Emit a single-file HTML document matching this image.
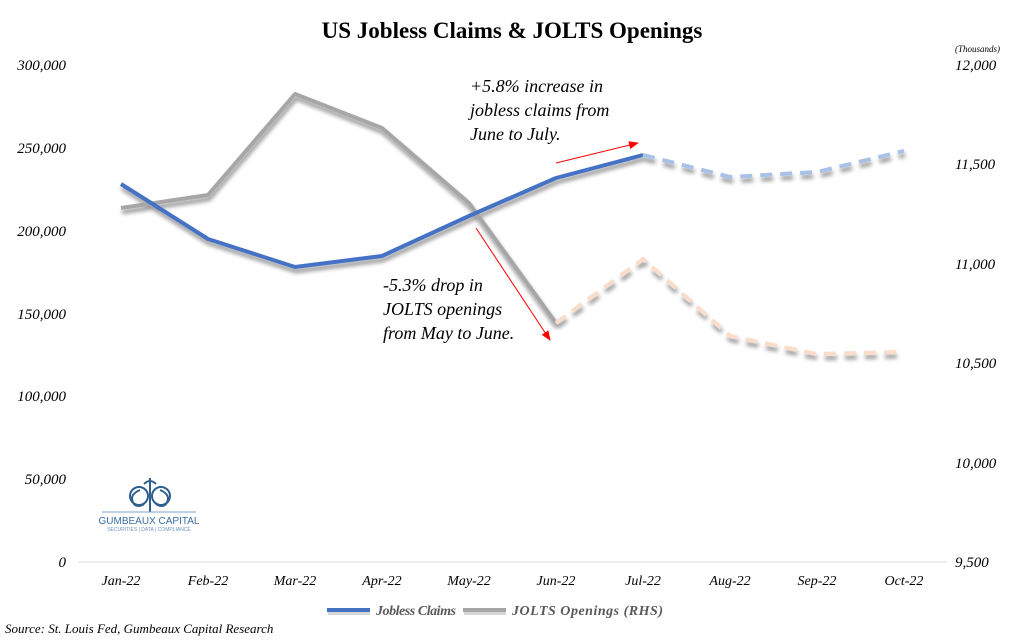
<!DOCTYPE html>
<html><head><meta charset="utf-8"><style>
body{margin:0;background:#fff;}
svg{display:block;font-family:"Liberation Serif",serif;}
</style></head><body>
<svg width="1024" height="642" viewBox="0 0 1024 642">
<defs>
<filter id="sh" x="-10%" y="-20%" width="120%" height="150%">
<feGaussianBlur in="SourceAlpha" stdDeviation="2"/>
<feOffset dx="1" dy="4" result="b"/>
<feComponentTransfer><feFuncA type="linear" slope="0.45"/></feComponentTransfer>
<feMerge><feMergeNode/><feMergeNode in="SourceGraphic"/></feMerge>
</filter>
<marker id="ah" markerWidth="10" markerHeight="8" refX="9" refY="4" orient="auto" markerUnits="userSpaceOnUse"><path d="M0,0 L10,4 L0,8 Z" fill="#f00"/></marker>
</defs>
<text x="512" y="38" text-anchor="middle" font-size="23" font-weight="bold">US Jobless Claims &amp; JOLTS Openings</text>
<g font-size="15" font-style="italic" text-anchor="end">
<text x="66" y="70">300,000</text><text x="66" y="153">250,000</text><text x="66" y="236">200,000</text>
<text x="66" y="319">150,000</text><text x="66" y="401">100,000</text><text x="66" y="484">50,000</text><text x="66" y="567">0</text>
</g>
<g font-size="15" font-style="italic" text-anchor="start">
<text x="955" y="70">12,000</text><text x="955" y="169">11,500</text><text x="955" y="269">11,000</text>
<text x="955" y="368">10,500</text><text x="955" y="468">10,000</text><text x="955" y="567">9,500</text>
</g>
<text x="955" y="52" font-size="9" font-style="italic">(Thousands)</text>
<line x1="78" y1="562" x2="947" y2="562" stroke="#d9d9d9" stroke-width="1"/>
<g font-size="14" font-style="italic" text-anchor="middle">
<text x="121" y="585">Jan-22</text><text x="208" y="585">Feb-22</text><text x="295" y="585">Mar-22</text><text x="382" y="585">Apr-22</text><text x="469" y="585">May-22</text><text x="556" y="585">Jun-22</text><text x="643" y="585">Jul-22</text><text x="730" y="585">Aug-22</text><text x="817" y="585">Sep-22</text><text x="904" y="585">Oct-22</text>
</g>
<g filter="url(#sh)" fill="none" stroke-linejoin="round">
<polyline points="121,208 208,195 295,94 382,128 469,203 556,323" stroke="#a6a6a6" stroke-width="4"/>
<polyline points="556,323 643,259 730,336 817,354 904,352" stroke="#f9dcc9" stroke-width="4" stroke-dasharray="12,8"/>
<polyline points="121,184 208,239 295,267 382,256 469,216 556,178 643,155" stroke="#4472c4" stroke-width="4"/>
<polyline points="643,155 730,177 817,172 904,151" stroke="#a9c1e6" stroke-width="4" stroke-dasharray="12,8"/>
</g>
<line x1="556" y1="163" x2="638" y2="143" stroke="#f00" stroke-width="1" marker-end="url(#ah)"/>
<line x1="476" y1="228" x2="550" y2="340" stroke="#f00" stroke-width="1" marker-end="url(#ah)"/>
<g font-size="18" font-style="italic">
<text x="470" y="92">+5.8% increase in</text><text x="470" y="116">jobless claims from</text><text x="470" y="140">June to July.</text>
<text x="383" y="291">-5.3% drop in</text><text x="383" y="315">JOLTS openings</text><text x="383" y="339">from May to June.</text>
</g>
<g stroke="#2f5f8f" fill="none" stroke-width="2">
<path d="M150,478 L150,512 M144,484 q6,-6 12,0 M140,490 q-12,5 -6,14 q4,4 10,0 M160,490 q12,5 6,14 q-4,4 -10,0"/>
<circle cx="139" cy="496" r="9"/><circle cx="161" cy="496" r="9"/>
</g>
<line x1="102" y1="512" x2="196" y2="512" stroke="#7fa3c8" stroke-width="1"/>
<text x="149" y="524" font-family="Liberation Sans,sans-serif" font-size="10" fill="#3a6ea5" text-anchor="middle">GUMBEAUX CAPITAL</text>
<text x="149" y="531" font-family="Liberation Sans,sans-serif" font-size="5" fill="#6e93bb" text-anchor="middle">SECURITIES | DATA | COMPLIANCE</text>
<rect x="328" y="611" width="42" height="4" fill="#999" opacity="0.4"/>
<rect x="327" y="608" width="43" height="4" fill="#4472c4"/>
<text x="376" y="615" font-size="14" font-style="italic" font-weight="bold" fill="#595959" textLength="80">Jobless Claims</text>
<rect x="464" y="611" width="42" height="4" fill="#999" opacity="0.4"/>
<rect x="463" y="608" width="43" height="4" fill="#a6a6a6"/>
<text x="512" y="615" font-size="14" font-style="italic" font-weight="bold" fill="#595959" textLength="151">JOLTS Openings (RHS)</text>
<text x="5" y="633" font-size="13" font-style="italic">Source: St. Louis Fed, Gumbeaux Capital Research</text>
</svg>
</body></html>
